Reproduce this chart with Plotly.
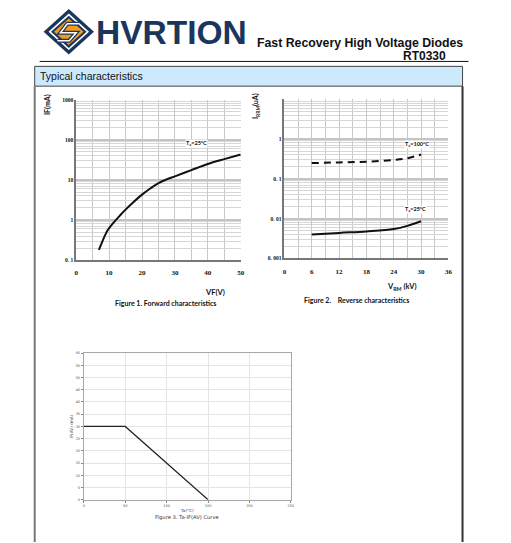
import plotly.graph_objects as go

# page is 511x543, but the html body adds an 8px margin, so the figure is drawn 8px smaller
W, H = 511, 543
OFF = 8
FW, FH = W - OFF, H - OFF

# figure 1 - forward characteristics (Ta=25C)
vf = [6.9, 8.0, 9.5, 11.0, 13.3, 15.0, 17.2, 20.0, 22.5, 25.0, 27.5, 30.0, 35.0, 40.0, 45.0, 50.0]
if_ma = [0.18, 0.30, 0.55, 0.80, 1.3, 1.82, 2.7, 4.3, 6.1, 8.3, 10.3, 12.3, 17.6, 25.0, 33.0, 43.0]

# figure 2 - reverse characteristics
vrm = [6, 12, 18, 24, 27, 30]
irrm_100 = [0.25, 0.26, 0.27, 0.30, 0.33, 0.41]
irrm_25 = [0.0040, 0.0044, 0.0048, 0.0055, 0.0066, 0.0086]

# figure 3 - Ta-IF(AV) curve
ta = [0, 50, 150]
if_av = [30, 30, 0]

log_ticks1 = [0.1, 1, 10, 100, 1000]
log_text1 = ["0. 1", "1", "10", "100", "1000"]
log_ticks2 = [0.001, 0.01, 0.1, 1, 10]
log_text2 = ["0. 001", "0. 01", "0. 1", "1", " "]

NAVY = "#1b365d"
ORANGE = "#f39c1a"


def px(x):
    return (x - OFF) / FW


def py(y):
    return 1 - (y - OFF) / FH


def path(points, close=True):
    s = "M " + " L ".join(f"{px(x):.5f},{py(y):.5f}" for x, y in points)
    return s + (" Z" if close else "")


def diamond(cx, cy, rx, ry):
    return [(cx - rx, cy), (cx, cy - ry), (cx + rx, cy), (cx, cy + ry)]


fig = go.Figure()

fig.add_trace(go.Scatter(x=vf, y=if_ma, mode="lines", line=dict(color="#111", width=2, shape="spline"),
                         xaxis="x", yaxis="y", showlegend=False))
fig.add_trace(go.Scatter(x=vrm, y=irrm_100, mode="lines", line=dict(color="#111", width=2, dash="7px,5px", shape="spline"),
                         xaxis="x2", yaxis="y2", showlegend=False))
fig.add_trace(go.Scatter(x=vrm, y=irrm_25, mode="lines", line=dict(color="#111", width=2, shape="spline"),
                         xaxis="x2", yaxis="y2", showlegend=False))
fig.add_trace(go.Scatter(x=ta, y=if_av, mode="lines", line=dict(color="#222", width=1.2),
                         xaxis="x3", yaxis="y3", showlegend=False))

tick_x = dict(family="Liberation Serif", size=7, color="#111", weight="bold")
tick_y = dict(family="Liberation Serif", size=5.5, color="#111", weight="bold")
tick_3 = dict(family="DejaVu Sans", size=3.5, color="#555")

log_x_common = dict(showline=True, linecolor="#777", linewidth=1.5, ticks="", gridcolor="#c8c8c8",
                    gridwidth=1, zeroline=False, tickfont=tick_x, ticklabelstandoff=5)
log_y_common = dict(type="log", showline=True, linecolor="#777", linewidth=1.5, ticks="",
                    gridcolor="#c4c4c4", gridwidth=2, zeroline=False, tickfont=tick_y,
                    minor=dict(showgrid=True, dtick="D1", gridcolor="#d6d6d6", gridwidth=1))

fig.update_layout(
    width=FW, height=FH, autosize=False,
    margin=dict(l=0, r=0, t=0, b=0),
    paper_bgcolor="white", plot_bgcolor="white",
    xaxis=dict(domain=[px(75), px(241.5)], anchor="y", range=[0, 50], dtick=10,
               minor=dict(dtick=5, showgrid=True, gridcolor="#c8c8c8"), **log_x_common),
    yaxis=dict(domain=[py(260), py(97.7)], anchor="x", range=[-1, 3],
               tickmode="array", tickvals=log_ticks1, ticktext=log_text1, **log_y_common),
    xaxis2=dict(domain=[px(285.7), px(451.7)], anchor="y2", range=[0, 36], dtick=6,
                minor=dict(dtick=3, showgrid=True, gridcolor="#c8c8c8"), **log_x_common),
    yaxis2=dict(domain=[py(258.3), py(97.3)], anchor="x2", range=[-3, 1],
                tickmode="array", tickvals=log_ticks2, ticktext=log_text2, **log_y_common),
    xaxis3=dict(domain=[px(82.7), px(292.3)], anchor="y3", range=[0, 250], dtick=50,
                showline=True, mirror=True, linecolor="#a8a8a8", linewidth=1, ticks="outside",
                ticklen=2, tickcolor="#888", gridcolor="#e4e4e4", zeroline=False, tickfont=tick_3),
    yaxis3=dict(domain=[py(502.3), py(354)], anchor="x3", range=[0, 60], dtick=5,
                showline=True, mirror=True, linecolor="#a8a8a8", linewidth=1, ticks="outside",
                ticklen=2, tickcolor="#888", gridcolor="#e4e4e4", zeroline=False, tickfont=tick_3),
)

P = dict(xref="paper", yref="paper")
shapes = [
    # page frame and header bar
    dict(type="line", x0=px(38), x1=px(472), y0=py(59), y1=py(59), line=dict(color="#111", width=1), **P),
    dict(type="rect", x0=px(33), x1=px(466), y0=py(84), y1=py(64), fillcolor="#cdeafc",
         line=dict(color="#444", width=1), layer="below", **P),
    dict(type="line", x0=px(33), x1=px(33), y0=py(84), y1=py(545), line=dict(color="#777", width=2), **P),
    dict(type="line", x0=px(466), x1=px(466), y0=py(84), y1=py(545), line=dict(color="#333", width=2), **P),
    # logo
    dict(type="path", path=path(diamond(67.5, 29, 25.5, 23)), fillcolor=NAVY, line=dict(width=0), **P),
    dict(type="path", path=path(diamond(67.5, 29, 20.5, 18.5)), fillcolor="white", line=dict(width=0), **P),
    dict(type="path", path=path(diamond(67.5, 29, 18, 16.3)), fillcolor=NAVY, line=dict(width=0), **P),
    dict(type="path", path=path(diamond(67.5, 29, 15, 13.5)), fillcolor=ORANGE, line=dict(width=0), **P),
    dict(type="path", path=path([(78, 21), (66, 21), (59, 30), (75, 30), (68, 38), (56, 38)], close=False),
         line=dict(color=NAVY, width=4), **P),
    dict(type="path", path=path([(78, 21), (66, 21), (59, 30), (75, 30), (68, 38), (56, 38)], close=False),
         line=dict(color="white", width=1.5), **P),
]

ann = []


def text(x, y, s, size, family="Liberation Sans", color="#111", bold=False, xanchor="center", angle=0, bg=None):
    ann.append(dict(x=px(x), y=py(y), text=s, showarrow=False,
                    xanchor=xanchor, yanchor="middle", textangle=angle, bgcolor=bg, borderpad=0,
                    font=dict(family=family, size=size, color=color, weight="bold" if bold else "normal"), **P))


text(171, 30, "HVRTION", 33.5, color=NAVY, bold=True)
text(362, 40, "Fast Recovery High Voltage Diodes", 12.3, bold=True)
text(427.5, 53.5, "RT0330", 12, bold=True)
text(37, 74, "Typical characteristics", 10.5, xanchor="left")

# figure 1 labels
text(46, 102.5, "IF(mA)", 7, family="Lato", bold=True, angle=-90)
text(215, 293, "VF(V)", 7.5, family="Lato", bold=True)
text(165, 303, "Figure 1. Forward characteristics", 7, family="Lato", bold=True)
text(196.7, 141.5, "T<sub>a</sub>=25°C", 5.5, family="Lato", bold=True, bg="white")

# figure 2 labels
text(257, 104, "I<sub>RRM</sub>(uA)", 7, family="Lato", bold=True, angle=-90)
text(404.7, 287, "V<sub>RM</sub> (kV)", 7.5, family="Lato", bold=True)
text(358.5, 300.5, "Figure 2.\u00a0\u00a0\u00a0\u00a0Reverse characteristics", 7, family="Lato", bold=True)
text(419.7, 142.7, "T<sub>a</sub>=100°C", 5.5, family="Lato", bold=True, bg="white")
text(418, 208.3, "T<sub>a</sub>=25°C", 5.5, family="Lato", bold=True, bg="white")

# figure 3 labels
text(70, 428, "IF(AV) (mA)", 4.2, family="DejaVu Sans", color="#444", angle=-90)
text(187, 513.5, "Ta(°C)", 4.2, family="DejaVu Sans", color="#444")
text(187, 520.5, "Figure 3. Ta-IF(AV) Curve", 5.2, family="DejaVu Sans", color="#333")

fig.update_layout(shapes=shapes, annotations=ann)

fig.write_html("out.html")
